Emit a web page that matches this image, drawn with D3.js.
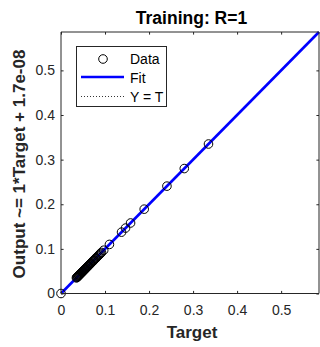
<!DOCTYPE html>
<html><head><meta charset="utf-8">
<script src="https://cdn.jsdelivr.net/npm/d3@7"></script>
<style>body{margin:0;background:#fff}svg{display:block}text{font-family:"Liberation Sans",Arial,sans-serif}</style>
</head><body>
<script>
const targets = [0, 0.035, 0.036, 0.037, 0.038, 0.039, 0.040, 0.041, 0.042, 0.043, 0.044, 0.045, 0.046, 0.047, 0.048, 0.049, 0.050, 0.051, 0.052, 0.053, 0.054, 0.055, 0.056, 0.057, 0.058, 0.060, 0.061, 0.062, 0.063, 0.065, 0.066, 0.067, 0.068, 0.070, 0.072, 0.073, 0.074, 0.075, 0.077, 0.079, 0.080, 0.082, 0.084, 0.086, 0.088, 0.090, 0.092, 0.097, 0.110, 0.1375, 0.1466, 0.158, 0.189, 0.2406, 0.280, 0.335];
const outputs = targets.slice();
const xTicks = [0, 0.1, 0.2, 0.3, 0.4, 0.5];
const yTicks = [0, 0.1, 0.2, 0.3, 0.4, 0.5];
const axisMax = 0.586;
const fitSlope = 1, fitIntercept = 1.7e-08;
const legendLabels = ["Data", "Fit", "Y = T"];

const W = 320, H = 347;
const L = 61, R = 319, T = 32, B = 293.5;
const svg = d3.select("body").append("svg").attr("width", W).attr("height", H);
const x = d3.scaleLinear().domain([0, axisMax]).range([L, R]);
const y = d3.scaleLinear().domain([0, axisMax]).range([B, T]);
const axCol = "#262626";

svg.append("rect").attr("x", L).attr("y", T).attr("width", R - L).attr("height", B - T).attr("fill", "#fff");

const lim = [0, axisMax];
const g = svg.append("g");
// Y = T
g.append("line").attr("x1", x(lim[0])).attr("y1", y(lim[0])).attr("x2", x(lim[1])).attr("y2", y(lim[1]))
  .attr("stroke", "#000").attr("stroke-width", 0.6).attr("stroke-dasharray", "1,2");
// Fit
g.append("line").attr("x1", x(lim[0])).attr("y1", y(lim[0] * fitSlope + fitIntercept)).attr("x2", x(lim[1])).attr("y2", y(lim[1] * fitSlope + fitIntercept))
  .attr("stroke", "#0000ff").attr("stroke-width", 2.6);
// Data
g.selectAll("circle.d").data(targets).join("circle").attr("class", "d")
  .attr("cx", d => x(d)).attr("cy", (d, i) => y(outputs[i])).attr("r", 4.3)
  .attr("fill", "none").attr("stroke", "#000").attr("stroke-width", 1);

// Axes
const xa = svg.append("g").attr("transform", `translate(0,${B})`)
  .call(d3.axisBottom(x).tickValues(xTicks).tickSize(-2.6).tickPadding(12).tickFormat(d3.format("~g")));
const ya = svg.append("g").attr("transform", `translate(${L},0)`)
  .call(d3.axisLeft(y).tickValues(yTicks).tickSize(-2.6).tickPadding(6).tickFormat(d3.format("~g")));
const xt = svg.append("g").attr("transform", `translate(0,${T})`)
  .call(d3.axisTop(x).tickValues(xTicks).tickSize(-2.6).tickFormat(""));
const yr = svg.append("g").attr("transform", `translate(${R},0)`)
  .call(d3.axisRight(y).tickValues(yTicks).tickSize(-2.6).tickFormat(""));
[xa, ya, xt, yr].forEach(a => {
  a.select(".domain").attr("stroke", axCol).attr("stroke-width", 1);
  a.selectAll(".tick line").attr("stroke", axCol);
  a.selectAll(".tick text").attr("fill", axCol).style("font-size", "14px").style("font-family", '"Liberation Sans",Arial,sans-serif');
});
xa.select(".domain").attr("d", `M${L},0H${R}`);
xt.select(".domain").attr("d", `M${L},0H${R}`);
ya.select(".domain").attr("d", `M0,${B}V${T}`);
yr.select(".domain").attr("d", `M0,${B}V${T}`);

// Title & labels
svg.append("text").attr("x", 191.5).attr("y", 24).attr("text-anchor", "middle")
  .style("font-size", "17.5px").style("font-weight", "bold").attr("fill", "#000").text("Training: R=1");
svg.append("text").attr("x", 192).attr("y", 338).attr("text-anchor", "middle")
  .style("font-size", "17px").style("font-weight", "bold").attr("fill", axCol).text("Target");
svg.append("text").attr("transform", "translate(25,164) rotate(-90)").attr("text-anchor", "middle")
  .style("font-size", "17px").style("font-weight", "bold").attr("fill", axCol).text("Output ~= 1*Target + 1.7e-08");

// Legend
const lg = svg.append("g");
lg.append("rect").attr("x", 76.5).attr("y", 46.5).attr("width", 90).attr("height", 60)
  .attr("fill", "#fff").attr("stroke", axCol).attr("stroke-width", 1);
lg.append("circle").attr("cx", 103).attr("cy", 59).attr("r", 4.3).attr("fill", "none").attr("stroke", "#000");
lg.append("line").attr("x1", 81).attr("x2", 124).attr("y1", 77).attr("y2", 77).attr("stroke", "#0000ff").attr("stroke-width", 2.6);
lg.append("line").attr("x1", 81).attr("x2", 124).attr("y1", 96.5).attr("y2", 96.5).attr("stroke", "#000").attr("stroke-width", 0.8).attr("stroke-dasharray", "1,2");
const ly = [64, 83, 101.5];
legendLabels.forEach((t, i) => {
  lg.append("text").attr("x", 130).attr("y", ly[i]).style("font-size", "14px").attr("fill", "#000").text(t);
});
</script>
</body></html>
